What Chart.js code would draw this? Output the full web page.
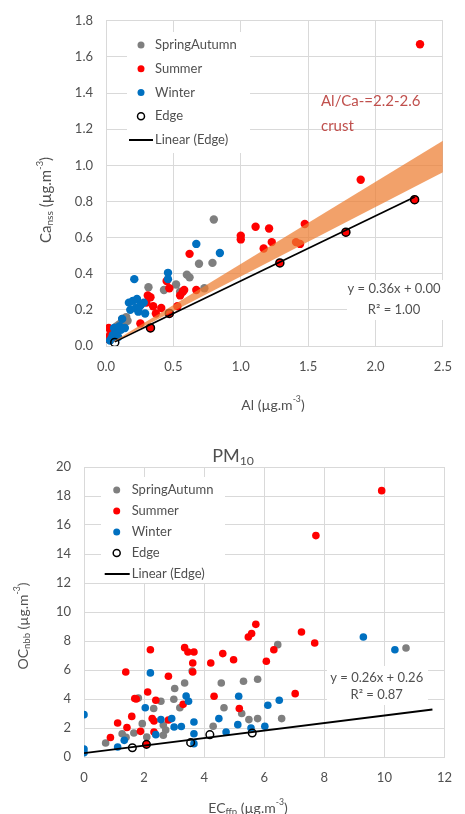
<!DOCTYPE html>
<html>
<head>
<meta charset="utf-8">
<title>Ca nss vs Al, OC nbb vs EC ffp</title>
<script src="https://cdn.jsdelivr.net/npm/chart.js@4.4.1/dist/chart.umd.min.js"></script>
<style>
  html, body { margin: 0; padding: 0; background: #fff; }
  canvas { position: absolute; left: 0; }
  #caChart { top: 0; }
  #ocChart { top: 420px; }
</style>
</head>
<body>
<canvas id="caChart" width="465" height="420"></canvas>
<canvas id="ocChart" width="465" height="394"></canvas>
<script>
// ---- upper panel: Ca(nss) vs Al ----
const alSpringAutumn = [0.80, 0.69, 0.79, 0.60, 0.62, 0.73, 0.52, 0.43, 0.55, 0.315, 0.12, 0.15, 0.14, 0.16, 0.08, 0.07, 0.05, 0.10];
const caSpringAutumn = [0.70, 0.455, 0.46, 0.395, 0.38, 0.32, 0.34, 0.31, 0.30, 0.325, 0.15, 0.16, 0.13, 0.14, 0.11, 0.09, 0.08, 0.12];

const alSummer = [2.33, 1.89, 2.29, 1.78, 1.29, 1.00, 1.00, 1.11, 1.21, 1.17, 1.23, 1.41, 1.44, 1.475, 0.62, 0.67, 0.45, 0.47, 0.55, 0.57, 0.58, 0.53, 0.31, 0.33, 0.35, 0.41, 0.37, 0.30, 0.255, 0.33, 0.47, 0.005, 0.03, 0.02];
const caSummer = [1.67, 0.92, 0.81, 0.63, 0.46, 0.61, 0.59, 0.66, 0.65, 0.54, 0.575, 0.575, 0.565, 0.675, 0.51, 0.31, 0.36, 0.32, 0.28, 0.30, 0.31, 0.22, 0.28, 0.27, 0.22, 0.21, 0.18, 0.24, 0.125, 0.10, 0.18, 0.04, 0.06, 0.10];

const alWinter = [0.67, 0.845, 0.46, 0.46, 0.21, 0.17, 0.20, 0.23, 0.26, 0.18, 0.22, 0.28, 0.29, 0.24, 0.25, 0.12, 0.10, 0.07, 0.05, 0.04, 0.06, 0.03, 0.08, 0.09, 0.11, 0.14];
const caWinter = [0.565, 0.515, 0.405, 0.37, 0.37, 0.24, 0.25, 0.26, 0.23, 0.20, 0.21, 0.24, 0.18, 0.19, 0.22, 0.15, 0.11, 0.08, 0.06, 0.04, 0.10, 0.03, 0.07, 0.05, 0.09, 0.10];

const alEdge = [0.065, 0.33, 0.47, 1.29, 1.78, 2.29];
const caEdge = [0.02, 0.10, 0.18, 0.46, 0.63, 0.81];

const caFit = { slope: 0.36, intercept: 0.00, r2: '1.00' };
const crustRatio = [2.2, 2.6];      // Al/Ca of crustal material
const crustAlRange = [0.05, 2.5];

const alTicks = [0, 0.5, 1.0, 1.5, 2.0, 2.5];
const caTicks = [0, 0.2, 0.4, 0.6, 0.8, 1.0, 1.2, 1.4, 1.6, 1.8];

// ---- lower panel: OC(nbb) vs EC(ffp), PM10 ----
const ecSpringAutumn = [0.72, 1.27, 1.40, 1.66, 1.81, 1.94, 2.09, 2.32, 2.56, 2.64, 2.72, 2.64, 2.99, 3.02, 3.19, 3.35, 3.60, 4.30, 4.57, 4.66, 5.25, 5.31, 5.49, 5.78, 5.78, 6.45, 6.58, 10.72];
const ocSpringAutumn = [0.97, 1.60, 1.36, 1.66, 4.07, 2.30, 1.38, 3.34, 3.84, 2.20, 1.86, 1.50, 3.98, 4.72, 3.40, 5.10, 5.93, 2.12, 5.10, 3.40, 3.00, 5.22, 2.58, 2.65, 5.36, 7.75, 2.65, 7.52];

const ecSummer = [0.88, 1.12, 1.43, 1.39, 1.59, 1.69, 1.74, 1.88, 2.12, 2.21, 2.27, 2.33, 2.33, 2.39, 2.81, 2.81, 3.30, 3.35, 3.46, 3.66, 3.62, 3.62, 4.22, 4.33, 4.62, 4.98, 5.17, 5.47, 5.58, 5.72, 6.07, 6.32, 7.03, 7.24, 7.68, 7.72, 9.91, 2.08];
const ocSummer = [1.34, 2.35, 2.03, 5.86, 2.80, 4.03, 4.00, 1.77, 4.48, 7.40, 2.65, 2.48, 1.72, 3.91, 5.57, 2.55, 3.63, 7.54, 7.24, 7.24, 6.48, 5.86, 6.48, 4.19, 7.13, 6.71, 3.34, 8.28, 8.51, 9.15, 6.60, 7.40, 4.37, 8.62, 7.86, 15.27, 18.37, 0.87];

const ecWinter = [0, 0, 0, 1.12, 1.34, 2.04, 2.21, 2.39, 2.56, 2.92, 3.00, 3.24, 3.40, 3.48, 3.66, 3.66, 3.66, 4.49, 4.73, 5.12, 5.15, 5.56, 6.02, 6.12, 6.50, 9.30, 10.35];
const ocWinter = [2.92, 0.55, 0.30, 0.69, 1.15, 3.40, 5.80, 1.54, 2.58, 2.65, 2.07, 2.10, 4.20, 3.85, 2.41, 1.60, 0.92, 2.65, 1.72, 2.23, 4.19, 2.00, 2.12, 3.57, 3.91, 8.28, 7.40];

const ecEdge = [1.61, 2.08, 3.55, 4.19, 5.60];
const ocEdge = [0.64, 0.87, 0.99, 1.54, 1.66];

const ocFit = { slope: 0.26, intercept: 0.26, r2: '0.87' };
const ocFitRange = [0, 11.6];

const ecTicks = [0, 2, 4, 6, 8, 10, 12];
const ocTicks = [0, 2, 4, 6, 8, 10, 12, 14, 16, 18, 20];

// ---- shared styling ----
const FONT = 'Lato, "Open Sans", sans-serif';
const GRID = '#d9d9d9';
const TEXT = '#505050';
const C_GRAY = '#7f7f7f', C_RED = '#ff0000', C_BLUE = '#0070c0';

const pts = (xs, ys) => xs.map((x, i) => ({ x, y: ys[i] }));
const fitLine = (fit, range) => range.map(x => ({ x, y: fit.slope * x + fit.intercept }));

// text with sub/superscript pieces: '_' prefix = subscript, '^' = superscript
function richPieces(parts, size) {
  return parts.map(p => {
    if (p[0] === '_') return { t: p.slice(1), s: size * 0.68, dy: size * 0.28 };
    if (p[0] === '^') return { t: p.slice(1), s: size * 0.62, dy: -size * 0.38 };
    return { t: p, s: size, dy: 0 };
  });
}
function drawRich(ctx, parts, cx, cy, size, rotate) {
  const pieces = richPieces(parts, size);
  let w = 0;
  pieces.forEach(p => { ctx.font = p.s + 'px ' + FONT; p.w = ctx.measureText(p.t).width; w += p.w; });
  ctx.save();
  ctx.translate(cx, cy);
  if (rotate) ctx.rotate(-Math.PI / 2);
  ctx.fillStyle = TEXT;
  ctx.textBaseline = 'middle';
  ctx.textAlign = 'left';
  let x = -w / 2;
  pieces.forEach(p => {
    ctx.font = p.s + 'px ' + FONT;
    ctx.fillText(p.t, x, p.dy);
    x += p.w;
  });
  ctx.restore();
}

function drawLegend(ctx, lg) {
  ctx.fillStyle = '#fff';
  ctx.fillRect(lg.box[0], lg.box[1], lg.box[2] - lg.box[0], lg.box[3] - lg.box[1]);
  ctx.font = lg.size + 'px ' + FONT;
  ctx.textBaseline = 'middle';
  ctx.textAlign = 'left';
  lg.items.forEach((it, i) => {
    const y = lg.y0 + i * lg.step;
    if (it.kind === 'line') {
      ctx.strokeStyle = '#000';
      ctx.lineWidth = 2;
      ctx.beginPath();
      ctx.moveTo(lg.mx - 12, y);
      ctx.lineTo(lg.tx - 2, y);
      ctx.stroke();
    } else {
      ctx.beginPath();
      ctx.arc(lg.mx, y, 3.5, 0, Math.PI * 2);
      if (it.kind === 'ring') {
        ctx.strokeStyle = '#000';
        ctx.lineWidth = 1.5;
        ctx.stroke();
      } else {
        ctx.fillStyle = it.color;
        ctx.fill();
      }
    }
    ctx.fillStyle = TEXT;
    ctx.fillText(it.label, lg.tx, y);
  });
}

function drawEquation(ctx, eq) {
  ctx.fillStyle = '#fff';
  ctx.fillRect(eq.box[0], eq.box[1], eq.box[2] - eq.box[0], eq.box[3] - eq.box[1]);
  ctx.fillStyle = TEXT;
  ctx.font = eq.size + 'px ' + FONT;
  ctx.textAlign = 'center';
  ctx.textBaseline = 'middle';
  eq.lines.forEach((t, i) => ctx.fillText(t, eq.x, eq.y[i]));
}

// labels, legend boxes and equation boxes drawn over the plot
const decor = {
  id: 'decor',
  afterDraw(chart, args, o) {
    const ctx = chart.ctx;
    ctx.save();
    if (o.legend) drawLegend(ctx, o.legend);
    if (o.equation) drawEquation(ctx, o.equation);
    if (o.note) {
      ctx.fillStyle = o.note.color;
      ctx.font = o.note.size + 'px ' + FONT;
      ctx.textAlign = 'left';
      ctx.textBaseline = 'middle';
      o.note.lines.forEach((t, i) => ctx.fillText(t, o.note.x, o.note.y[i]));
    }
    if (o.title) drawRich(ctx, o.title.parts, o.title.x, o.title.y, o.title.size, false);
    drawRich(ctx, o.xTitle.parts, o.xTitle.x, o.xTitle.y, o.xTitle.size, false);
    drawRich(ctx, o.yTitle.parts, o.yTitle.x, o.yTitle.y, o.yTitle.size, true);
    ctx.restore();
  }
};

function dotSet(label, data, color, r, order) {
  return { label, data, backgroundColor: color, borderColor: color, borderWidth: 0, pointRadius: r, order };
}
function ringSet(label, data, r, order) {
  return { label, data, backgroundColor: 'rgba(0,0,0,0)', borderColor: '#000', borderWidth: 1.5, pointRadius: r, order };
}
function lineSet(label, data, order) {
  return { label, data, showLine: true, borderColor: '#000', borderWidth: 1.8, pointRadius: 0, fill: false, order };
}

function axis(ticks, fmt, size, pad, min, max, fitKey, fitVal) {
  return {
    type: 'linear', min, max,
    afterBuildTicks: s => { s.ticks = ticks.map(v => ({ value: v })); },
    afterFit: s => { s[fitKey] = fitVal; },
    grid: { color: GRID, lineWidth: 1, drawTicks: false },
    border: { color: GRID },
    ticks: { color: TEXT, font: { family: FONT, size }, padding: pad, callback: v => fmt(v) }
  };
}

const common = {
  responsive: false,
  animation: false,
  events: [],
  plugins: { legend: { display: false }, tooltip: { enabled: false } }
};

// upper chart
const crustLo = crustAlRange.map(x => ({ x, y: x / crustRatio[1] }));
const crustHi = crustAlRange.map(x => ({ x, y: x / crustRatio[0] }));

new Chart(document.getElementById('caChart'), {
  type: 'scatter',
  data: {
    datasets: [
      { label: 'crust upper', data: crustHi, showLine: true, borderWidth: 0, pointRadius: 0,
        fill: '+1', backgroundColor: 'rgba(237,125,49,0.72)', order: 0 },
      { label: 'crust lower', data: crustLo, showLine: true, borderWidth: 0, pointRadius: 0, fill: false, order: 0 },
      lineSet('Linear (Edge)', fitLine(caFit, [alEdge[0], alEdge[alEdge.length - 1]]), 1),
      ringSet('Edge', pts(alEdge, caEdge), 4, 2),
      dotSet('Winter', pts(alWinter, caWinter), C_BLUE, 4.2, 3),
      dotSet('Summer', pts(alSummer, caSummer), C_RED, 4.2, 4),
      dotSet('SpringAutumn', pts(alSpringAutumn, caSpringAutumn), C_GRAY, 4.2, 5)
    ]
  },
  options: {
    ...common,
    layout: { padding: { top: 19, right: 10, left: 0, bottom: 0 } },
    scales: {
      x: axis(alTicks, v => v.toFixed(1), 13, 13, 0, 2.5, 'height', 74),
      y: axis(caTicks, v => v.toFixed(1), 13, 13, 0, 1.8, 'width', 106)
    },
    plugins: {
      ...common.plugins,
      filler: { propagate: false },
      decor: {
        legend: {
          box: [127, 32, 250, 153], mx: 141, tx: 155, y0: 45, step: 23.75, size: 13,
          items: [
            { label: 'SpringAutumn', kind: 'dot', color: C_GRAY },
            { label: 'Summer', kind: 'dot', color: C_RED },
            { label: 'Winter', kind: 'dot', color: C_BLUE },
            { label: 'Edge', kind: 'ring' },
            { label: 'Linear (Edge)', kind: 'line' }
          ]
        },
        equation: {
          box: [347, 280, 445, 320], x: 394, y: [288.5, 309.5], size: 13,
          lines: ['y = ' + caFit.slope.toFixed(2) + 'x + ' + caFit.intercept.toFixed(2), 'R² = ' + caFit.r2]
        },
        note: { x: 321, y: [101.5, 126.5], size: 15, color: '#c0504d',
          lines: ['Al/Ca-=' + crustRatio[0] + '-' + crustRatio[1], 'crust'] },
        xTitle: { parts: ['Al (µg.m', '^-3', ')'], x: 273, y: 405, size: 14 },
        yTitle: { parts: ['Ca', '_nss', ' (µg.m', '^-3', ')'], x: 46, y: 200, size: 15 }
      }
    }
  },
  plugins: [decor]
});

// lower chart
new Chart(document.getElementById('ocChart'), {
  type: 'scatter',
  data: {
    datasets: [
      lineSet('Linear (Edge)', fitLine(ocFit, ocFitRange), 1),
      ringSet('Edge', pts(ecEdge, ocEdge), 3.8, 2),
      dotSet('Winter', pts(ecWinter, ocWinter), C_BLUE, 3.8, 3),
      dotSet('Summer', pts(ecSummer, ocSummer), C_RED, 3.8, 4),
      dotSet('SpringAutumn', pts(ecSpringAutumn, ocSpringAutumn), C_GRAY, 3.8, 5)
    ]
  },
  options: {
    ...common,
    layout: { padding: { top: 47, right: 13, left: 0, bottom: 0 } },
    scales: {
      x: axis(ecTicks, v => String(v), 13, 13, 0, 12, 'height', 57),
      y: axis(ocTicks, v => String(v), 13, 13, 0, 20, 'width', 84)
    },
    plugins: {
      ...common.plugins,
      decor: {
        legend: {
          box: [101, 57, 225, 163], mx: 116.7, tx: 131.7, y0: 70, step: 21, size: 13,
          items: [
            { label: 'SpringAutumn', kind: 'dot', color: C_GRAY },
            { label: 'Summer', kind: 'dot', color: C_RED },
            { label: 'Winter', kind: 'dot', color: C_BLUE },
            { label: 'Edge', kind: 'ring' },
            { label: 'Linear (Edge)', kind: 'line' }
          ]
        },
        equation: {
          box: [327, 246, 428, 285], x: 376.7, y: [257.5, 275], size: 13,
          lines: ['y = ' + ocFit.slope.toFixed(2) + 'x + ' + ocFit.intercept.toFixed(2), 'R² = ' + ocFit.r2]
        },
        title: { parts: ['PM', '_10'], x: 233, y: 36, size: 18 },
        xTitle: { parts: ['EC', '_ffp', ' (µg.m', '^-3', ')'], x: 248, y: 388, size: 14 },
        yTitle: { parts: ['OC', '_nbb', ' (µg.m', '^-3', ')'], x: 23, y: 206, size: 14 }
      }
    }
  },
  plugins: [decor]
});
</script>
</body>
</html>
